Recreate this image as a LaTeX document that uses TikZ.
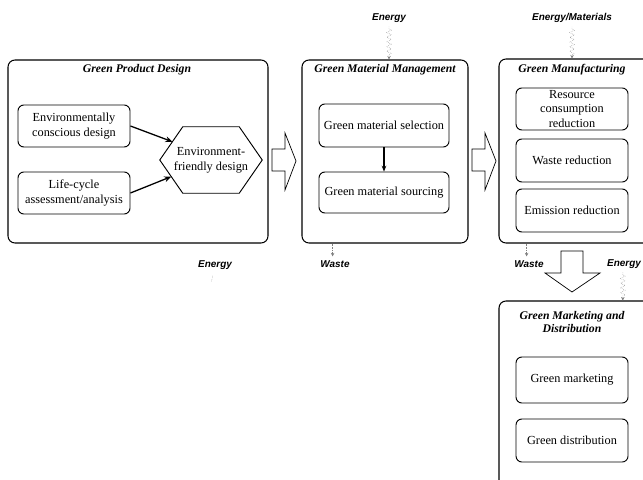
\documentclass[tikz,border=0pt]{standalone}
\usepackage{fontspec}
\setmainfont{Liberation Serif}
\setsansfont{Liberation Sans}
\usetikzlibrary{calc,decorations.pathmorphing,arrows.meta}
\def\px{0.03cm}

\begin{document}
\begin{tikzpicture}[x=0.03cm,y=-0.03cm,
    frame/.style={draw,line width=0.9pt,rounded corners=6pt},
    ttl/.style={font=\fontsize{10}{11.5}\selectfont\bfseries\itshape,align=center},
    box/.style={draw,line width=0.8pt,rounded corners=5pt,align=center,
      font=\fontsize{10.5}{12.5}\selectfont,inner sep=1pt},
    flowlbl/.style={font=\fontsize{8.5}{10}\selectfont\sffamily\bfseries\itshape},
    squig/.style={gray,densely dotted,decorate,
      decoration={zigzag,segment length=4pt,amplitude=2pt,pre length=2pt,post length=3pt},
      -{Stealth[length=3pt,width=3pt]}},
    leak/.style={gray,densely dotted,-{Stealth[length=3pt,width=3pt]}},
    link/.style={line width=1.1pt,-{Stealth[length=6pt,width=5pt]}},
    blk/.style={draw,line width=0.6pt,fill=white}]
  \clip (0,0) rectangle (643,480);

  % frames
  \node[frame,minimum width=260*\px,minimum height=183*\px] (pd) at (138,151.5) {};
  \node[frame,minimum width=166*\px,minimum height=183*\px] (mm) at (385,151.5) {};
  \node[frame,minimum width=161*\px,minimum height=184*\px] (mf) at (579.5,151) {};
  \node[frame,minimum width=161*\px,minimum height=194*\px] (md) at (579.5,398) {};
  \node[ttl] (pdt) at (137,70) {Green Product Design};
  \node[ttl] (mmt) at (385,70) {Green Material Management};
  \node[ttl] (mft) at (572,70) {Green Manufacturing};
  \node[ttl] (mdt) at (572,322) {Green Marketing and\\Distribution};

  % green product design
  \node[box,minimum width=112*\px,minimum height=42*\px] (ecd) at (74,126) {Environmentally\\conscious design};
  \node[box,minimum width=112*\px,minimum height=42*\px] (lca) at (74,193) {Life-cycle\\assessment/analysis};
  \node[align=center,font=\fontsize{10.5}{12.5}\selectfont,inner sep=0pt,
    minimum width=102*\px,minimum height=66*\px] (efd) at (211,160) {Environment-\\friendly design};
  \coordinate (efdnw) at ([xshift=23*\px]efd.north west);
  \coordinate (efdsw) at ([xshift=23*\px]efd.south west);
  \draw[line width=0.8pt] (efd.west) -- (efdnw) -- ([xshift=-23*\px]efd.north east)
    -- (efd.east) -- ([xshift=-23*\px]efd.south east) -- (efdsw) -- cycle;
  \draw[link] (ecd.east) -- ($(efd.west)!0.55!(efdnw)$);
  \draw[link] (lca.east) -- ($(efd.west)!0.5!(efdsw)$);

  % green material management
  \node[box,minimum width=130*\px,minimum height=43*\px] (gms) at (384,125.5) {Green material selection};
  \node[box,minimum width=130*\px,minimum height=41*\px] (gmc) at (384,192.5) {Green material sourcing};
  \draw[line width=1pt,-{Stealth[length=5pt,width=4pt]}] (gms) -- (gmc);

  % green manufacturing
  \node[box,minimum width=112*\px,minimum height=42*\px] (rcr) at (572,109) {Resource\\consumption\\reduction};
  \node[box,minimum width=112*\px,minimum height=43*\px] (wr) at (572,160.5) {Waste reduction};
  \node[box,minimum width=112*\px,minimum height=43*\px] (er) at (572,210.5) {Emission reduction};

  % green marketing and distribution
  \node[box,minimum width=112*\px,minimum height=46*\px] (gmk) at (572,380) {Green marketing};
  \node[box,minimum width=112*\px,minimum height=43*\px] (gds) at (572,440.5) {Green distribution};

  % block arrows
  \foreach \x in {0,200}
    \draw[blk,xshift=\x*\px] (272,149) -- (285,149) -- (285,133) -- (296,161)
      -- (285,190) -- (285,171) -- (272,171) -- cycle;
  \draw[blk] (561,251) -- (583,251) -- (583,273) -- (600,273) -- (572,292)
    -- (545,273) -- (561,273) -- cycle;

  % inputs and outputs
  \node[flowlbl] (en1) at (389,18) {Energy};
  \node[flowlbl] (en2) at (572,18) {Energy/Materials};
  \node[flowlbl] (en3) at (624,264) {Energy};
  \node[flowlbl] (en0) at (215,265) {Energy};
  \node[flowlbl] (ws1) at (335,264) {Waste};
  \node[flowlbl] (ws2) at (529,264) {Waste};
  \draw[squig] (en1.south) -- (en1.south |- mm.north);
  \draw[squig] (en2.south) -- (en2.south |- mf.north);
  \draw[squig] ([xshift=-1pt]en3.south) -- ([xshift=-1pt]en3.south |- md.north);
  \draw[gray,densely dotted] ([xshift=-2pt,yshift=-2pt]en0.south) -- +(-1pt,-5pt);
  \draw[leak] (mm.south -| ws1.north) ++(-2pt,0) -- ([xshift=-2pt]ws1.north);
  \draw[leak] (mf.south -| ws2.north) ++(-2pt,0) -- ([xshift=-2pt]ws2.north);
\end{tikzpicture}
\end{document}
